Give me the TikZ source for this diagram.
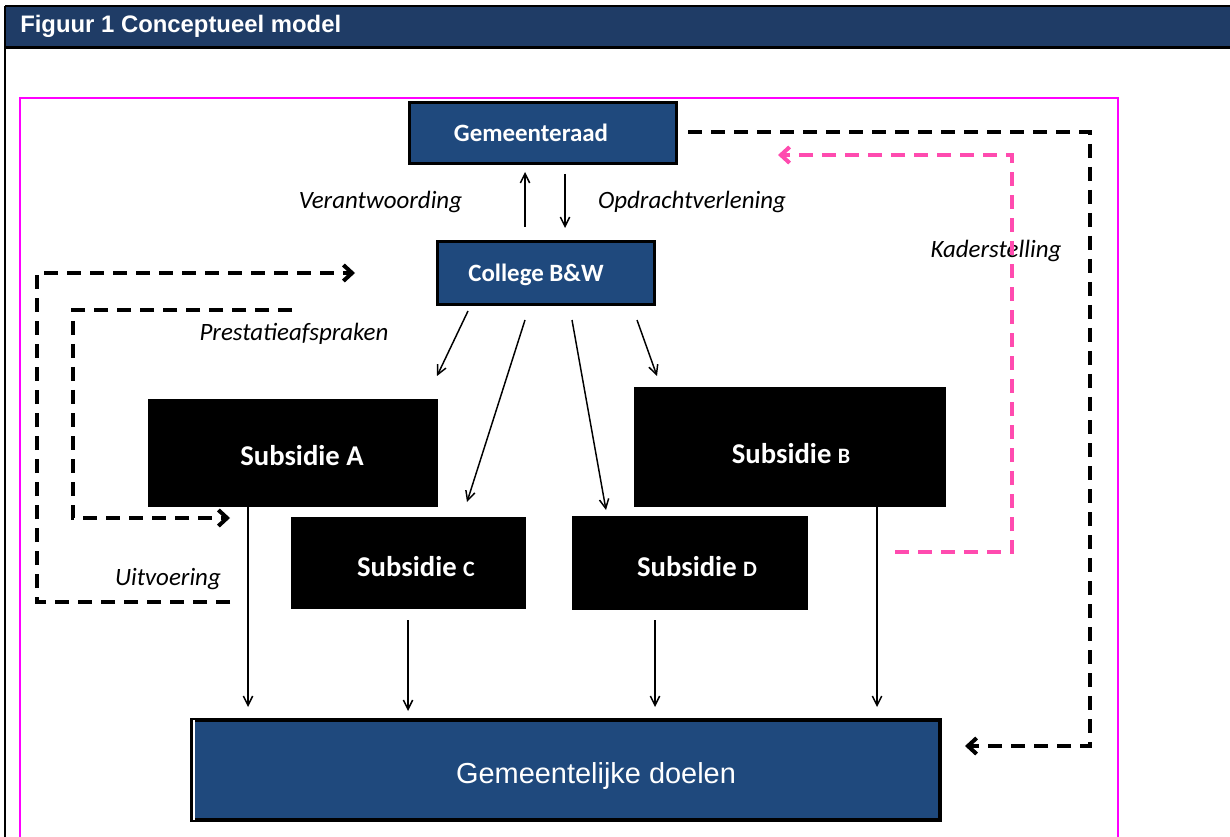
\documentclass[tikz,border=0pt]{standalone}
\usepackage{fontspec}
\setmainfont{Carlito}
\newfontfamily\arialfont{Liberation Sans}
\usetikzlibrary{arrows.meta,calc}
\definecolor{hdrblue}{RGB}{31,60,102}
\definecolor{boxblue}{RGB}{31,73,125}
\definecolor{kpink}{RGB}{255,75,175}
\definecolor{frmag}{RGB}{255,0,255}
\begin{document}
\begin{tikzpicture}[x=0.75pt,y=-0.75pt,
  bluebox/.style={draw=black,line width=2.6pt,fill=boxblue,inner sep=0pt},
  subbox/.style={fill=black,inner sep=0pt},
  boxtext/.style={text=white,anchor=base,font=\bfseries\fontsize{18.7}{20}\selectfont,inner sep=0pt},
  subtext/.style={text=white,anchor=base,font=\bfseries\fontsize{21.5}{24}\selectfont,inner sep=0pt},
  lbl/.style={anchor=base,font=\itshape\fontsize{18.7}{20}\selectfont,inner sep=0pt},
  thinarrow/.style={line width=1.1pt,-{Straight Barb[length=7pt,width=7pt]}},
  bdash/.style={line width=3pt,dash pattern=on 10.5pt off 6.75pt,-{Straight Barb[length=6.5pt,width=12pt]}},
  pdash/.style={bdash,draw=kpink},
]
\useasboundingbox (0,0) rectangle (1230,837);
% header and outer frame
\fill[hdrblue] (5,6) rectangle (1230,47);
\draw[line width=1.6pt] (5,6) -- (1230,6);
\draw[line width=1.6pt] (5,47.5) -- (1230,47.5);
\draw[line width=1.5pt] (5,6) -- (5,837);
\node[anchor=base west,text=white,inner sep=0pt,font=\arialfont\bfseries\fontsize{17.9}{20}\selectfont] (title) at (20,33) {Figuur 1 Conceptueel model};
% magenta frame
\draw[frmag,line width=1.5pt] (20,837) -- (20,98.5) -- (1118,98.5) -- (1118,837);

% boxes
\node[bluebox,minimum width=199.9pt,minimum height=45.4pt] (gr) at (543,133) {};
\node[boxtext] (grt) at (531,142) {Gemeenteraad};
\node[bluebox,minimum width=162.4pt,minimum height=46.9pt] (cbw) at (546,273) {};
\node[boxtext] (cbwt) at (536,282) {College B\&W};
\node[subbox,minimum width=217.5pt,minimum height=81pt] (sa) at (293,453) {};
\node[subtext] (sat) at (302,465) {Subsidie A};
\node[subbox,minimum width=234pt,minimum height=90pt] (sb) at (790,447) {};
\node[subtext] (sbt) at (791,463) {Subsidie {\fontsize{16.5}{16}\selectfont B}};
\node[subbox,minimum width=176.25pt,minimum height=69pt] (sc) at (408.5,563) {};
\node[subtext] (sct) at (416,576) {Subsidie {\fontsize{16.5}{16}\selectfont C}};
\node[subbox,minimum width=177pt,minimum height=70.5pt] (sd) at (690,563) {};
\node[subtext] (sdt) at (697,576) {Subsidie {\fontsize{16.5}{16}\selectfont D}};
\node[draw=black,line width=3pt,fill=boxblue,inner sep=0pt,minimum width=561pt,minimum height=75pt] (gd) at (566,770) {};
\draw[white,line width=2pt] ($(gd.north west)+(4,2)$) -- ($(gd.south west)+(4,-2)$);
\node[anchor=base,text=white,inner sep=0pt,font=\arialfont\fontsize{21.7}{24}\selectfont] (gdt) at (596,783) {Gemeentelijke doelen};

% labels
\node[lbl] (l1) at (380.5,209) {Verantwoording};
\node[lbl] (l2) at (692,209) {Opdrachtverlening};
\node[lbl] (l3) at (996,258) {Kaderstelling};
\node[lbl] (l4) at (294,341) {Prestatieafspraken};
\node[lbl] (l5) at (168,585) {Uitvoering};

% thin arrows between gemeenteraad and college
\coordinate (u1) at (525,227); \coordinate (u2) at (525,172);
\coordinate (d1) at (565,174); \coordinate (d2) at (565,228);
\draw[thinarrow] (u1) -- (u2);
\draw[thinarrow] (d1) -- (d2);
% college to subsidies
\coordinate (c1a) at (468,311); \coordinate (c1b) at (437,376);
\coordinate (c2a) at (525,320); \coordinate (c2b) at (467,502);
\coordinate (c3a) at (572,320); \coordinate (c3b) at (606,510);
\coordinate (c4a) at (637,320); \coordinate (c4b) at (657,376);
\draw[thinarrow] (c1a) -- (c1b);
\draw[thinarrow] (c2a) -- (c2b);
\draw[thinarrow] (c3a) -- (c3b);
\draw[thinarrow] (c4a) -- (c4b);
% subsidies to doelen
\coordinate (ea) at (248,707); \coordinate (ec) at (408,711);
\coordinate (ed) at (655,707); \coordinate (eb) at (877,707);
\coordinate (sc0) at (408,620); \coordinate (sd0) at (655,620);
\draw[thinarrow] (sa.south -| ea) -- (ea);
\draw[thinarrow] (sc0) -- (ec);
\draw[thinarrow] (sd0) -- (ed);
\draw[thinarrow] (sb.south -| eb) -- (eb);

% dashed connectors
\coordinate (k0) at (688,132); \coordinate (k1) at (1090,132);
\coordinate (k2) at (1090,746); \coordinate (k3) at (965,746);
\draw[bdash] (k0) -- (k1) -- (k2) -- (k3);
\coordinate (p0) at (895,552); \coordinate (p1) at (1012,552);
\coordinate (p2) at (1012,155); \coordinate (p3) at (778,155);
\draw[pdash] (p0) -- (p1) -- (p2) -- (p3);
\coordinate (o0) at (230,602); \coordinate (o1) at (37,602);
\coordinate (o2) at (37,273); \coordinate (o3) at (355,273);
\draw[bdash] (o0) -- (o1) -- (o2) -- (o3);
\coordinate (i0) at (292,310); \coordinate (i1) at (73,310);
\coordinate (i2) at (73,518); \coordinate (i3) at (230,518);
\draw[bdash] (i0) -- (i1) -- (i2) -- (i3);
\end{tikzpicture}
\end{document}
